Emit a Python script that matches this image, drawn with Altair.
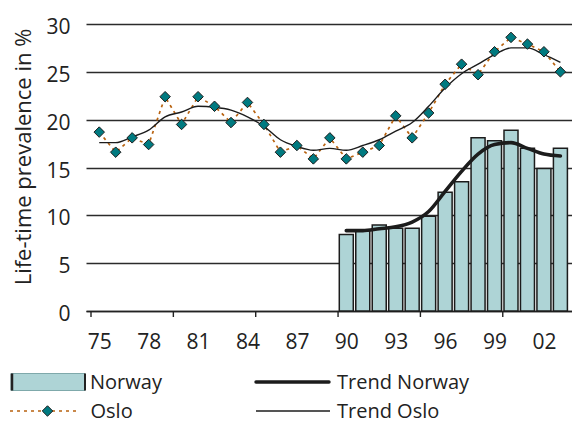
import altair as alt
import pandas as pd

# ---------------- data ----------------
years = [1975, 1976, 1977, 1978, 1979, 1980, 1981, 1982, 1983, 1984,
         1985, 1986, 1987, 1988, 1989, 1990, 1991, 1992, 1993, 1994,
         1995, 1996, 1997, 1998, 1999, 2000, 2001, 2002, 2003]
oslo = [18.7, 16.6, 18.1, 17.4, 22.4, 19.5, 22.4, 21.4, 19.7, 21.8,
        19.5, 16.6, 17.3, 15.9, 18.1, 15.9, 16.6, 17.3, 20.4, 18.1,
        20.7, 23.7, 25.8, 24.7, 27.1, 28.6, 27.9, 27.1, 25.0]
trend_oslo = [17.6, 17.6, 18.2, 18.9, 20.3, 20.8, 21.4, 21.3, 21.0, 20.3,
              19.3, 17.9, 17.2, 16.8, 17.0, 16.8, 17.3, 17.9, 18.8, 19.7,
              21.4, 23.3, 24.8, 25.8, 26.8, 27.5, 27.5, 26.8, 26.0]
norway_years = [1990, 1991, 1992, 1993, 1994, 1995, 1996,
                1997, 1998, 1999, 2000, 2001, 2002, 2003]
norway = [8.0, 8.4, 9.0, 8.65, 8.65, 9.9, 12.4,
          13.5, 18.1, 17.8, 18.9, 17.0, 14.9, 17.0]
trend_norway = [8.4, 8.4, 8.6, 8.8, 9.3, 10.4, 12.5,
                14.6, 16.4, 17.4, 17.6, 17.0, 16.4, 16.2]
label_years = [1975, 1978, 1981, 1984, 1987, 1990, 1993, 1996, 1999, 2002]
tick_years = [1974.5, 1979.5, 1984.5, 1989.5, 1994.5, 1999.5]
y_ticks = [0, 5, 10, 15, 20, 25, 30]
legend_labels = ["Norway", "Trend Norway", "Oslo", "Trend Oslo"]

oslo_df = pd.DataFrame({"year": years, "oslo": oslo, "trend": trend_oslo})
nor_df = pd.DataFrame({"year": norway_years, "norway": norway, "trend": trend_norway})
tick_df = pd.DataFrame({"year": tick_years})

FONT = "Open Sans"
INK = "#222222"
BAR_FILL = "#aed4d6"
TEAL = "#007a80"
ORANGE = "#b8620f"

x_scale = alt.Scale(domain=[1974.5, 2003.4], nice=False, zero=False)
y_scale = alt.Scale(domain=[0, 30], nice=False)

x_axis = alt.Axis(values=label_years,
                  labelExpr="substring(toString(datum.value), 2, 4)",
                  ticks=False, tickSize=0, grid=False,
                  domain=True, domainColor=INK, domainWidth=1.5,
                  labelPadding=37, labelBaseline="alphabetic",
                  labelFontSize=21, labelColor=INK, labelFlush=False,
                  labelOverlap=False, title=None)
y_axis = alt.Axis(values=y_ticks, grid=True, gridColor="#2b2b2b", gridWidth=1.3,
                  domain=False, ticks=False, tickSize=0,
                  labelPadding=16, labelBaseline="alphabetic", labelOffset=9.5,
                  labelFontSize=21, labelColor=INK,
                  title="Life-time prevalence in %", titleFontSize=22,
                  titleFontWeight="normal", titleColor=INK,
                  titleX=-56, titleY=132.5, titleAngle=270,
                  titleBaseline="alphabetic", titleAlign="center")

bars = alt.Chart(nor_df).mark_bar(size=14, color=BAR_FILL, stroke="#1c1c1c",
                                  strokeWidth=1.5).encode(
    x=alt.X("year:Q", scale=x_scale, axis=x_axis),
    y=alt.Y("norway:Q", scale=y_scale, axis=y_axis),
)

ticks = alt.Chart(tick_df).mark_rule(color=INK, strokeWidth=1.4).encode(
    x=alt.X("year:Q", scale=x_scale),
    y=alt.value(287), y2=alt.value(293),
)

oslo_line = alt.Chart(oslo_df).mark_line(color=ORANGE, strokeWidth=1.7,
                                          strokeDash=[3, 4]).encode(
    x=alt.X("year:Q", scale=x_scale),
    y=alt.Y("oslo:Q", scale=y_scale),
)
oslo_trend = alt.Chart(oslo_df).mark_line(color="#1c1c1c", strokeWidth=1.4,
                                           interpolate="monotone").encode(
    x=alt.X("year:Q", scale=x_scale),
    y=alt.Y("trend:Q", scale=y_scale),
)
oslo_pts = alt.Chart(oslo_df).mark_point(shape="diamond", filled=True, size=110,
                                          color=TEAL, stroke="#1c1c1c",
                                          strokeWidth=1, opacity=1).encode(
    x=alt.X("year:Q", scale=x_scale),
    y=alt.Y("oslo:Q", scale=y_scale),
)
nor_trend = alt.Chart(nor_df).mark_line(color="#1c1c1c", strokeWidth=3.6,
                                         interpolate="monotone",
                                         strokeCap="round").encode(
    x=alt.X("year:Q", scale=x_scale),
    y=alt.Y("trend:Q", scale=y_scale),
)

# ---------------- legend (drawn below the plot) ----------------
def one(label):
    return alt.Data(values=[{"label": label}])

R1 = 365   # baseline of first legend row (plot coordinates)
R2 = 394   # baseline of second legend row
S1 = R1 - 7
S2 = R2 - 7

leg_rect = alt.Chart(one(legend_labels[0])).mark_rect(
    color=BAR_FILL, stroke="#7fa9ab", strokeWidth=1).encode(
    x=alt.value(-75), x2=alt.value(-1), y=alt.value(S1 - 8.5), y2=alt.value(S1 + 8.5))
leg_rect_l = alt.Chart(one(legend_labels[0])).mark_rule(
    color=INK, strokeWidth=2.5).encode(
    x=alt.value(-74), y=alt.value(S1 - 8.5), y2=alt.value(S1 + 8.5))
leg_rect_r = alt.Chart(one(legend_labels[0])).mark_rule(
    color=INK, strokeWidth=2).encode(
    x=alt.value(-1), y=alt.value(S1 - 8.5), y2=alt.value(S1 + 8.5))
leg_nt = alt.Chart(one(legend_labels[1])).mark_rule(
    color="#1c1c1c", strokeWidth=3.4, strokeCap="round").encode(
    x=alt.value(170), x2=alt.value(243), y=alt.value(S1))
leg_od = alt.Chart(one(legend_labels[2])).mark_rule(
    color=ORANGE, strokeWidth=1.7, strokeDash=[3, 4]).encode(
    x=alt.value(-76), x2=alt.value(-6), y=alt.value(S2))
leg_op = alt.Chart(one(legend_labels[2])).mark_point(
    shape="diamond", filled=True, size=110, color=TEAL, stroke="#1c1c1c",
    strokeWidth=1, opacity=1).encode(x=alt.value(-38.5), y=alt.value(S2))
leg_ot = alt.Chart(one(legend_labels[3])).mark_rule(
    color="#1c1c1c", strokeWidth=1.4).encode(
    x=alt.value(170), x2=alt.value(244), y=alt.value(S2))

def leg_text(label, x, y):
    return alt.Chart(one(label)).mark_text(
        align="left", baseline="alphabetic", fontSize=20, font=FONT,
        color=INK).encode(x=alt.value(x), y=alt.value(y), text="label:N")

texts = [leg_text(legend_labels[0], 4, R1),
         leg_text(legend_labels[1], 251, R1),
         leg_text(legend_labels[2], 4.5, R2),
         leg_text(legend_labels[3], 251, R2)]

chart = alt.layer(
    bars, ticks, oslo_line, oslo_trend, oslo_pts, nor_trend,
    leg_rect, leg_rect_l, leg_rect_r, leg_nt, leg_od, leg_op, leg_ot, *texts
).properties(
    width=486, height=287,
    autosize=alt.AutoSizeParams(type="none"),
    padding={"left": 78, "top": 16, "right": 0, "bottom": 113},
).configure(font=FONT).configure_view(stroke=None)

chart.save("out.html", embed_options={"renderer": "svg", "actions": False})
